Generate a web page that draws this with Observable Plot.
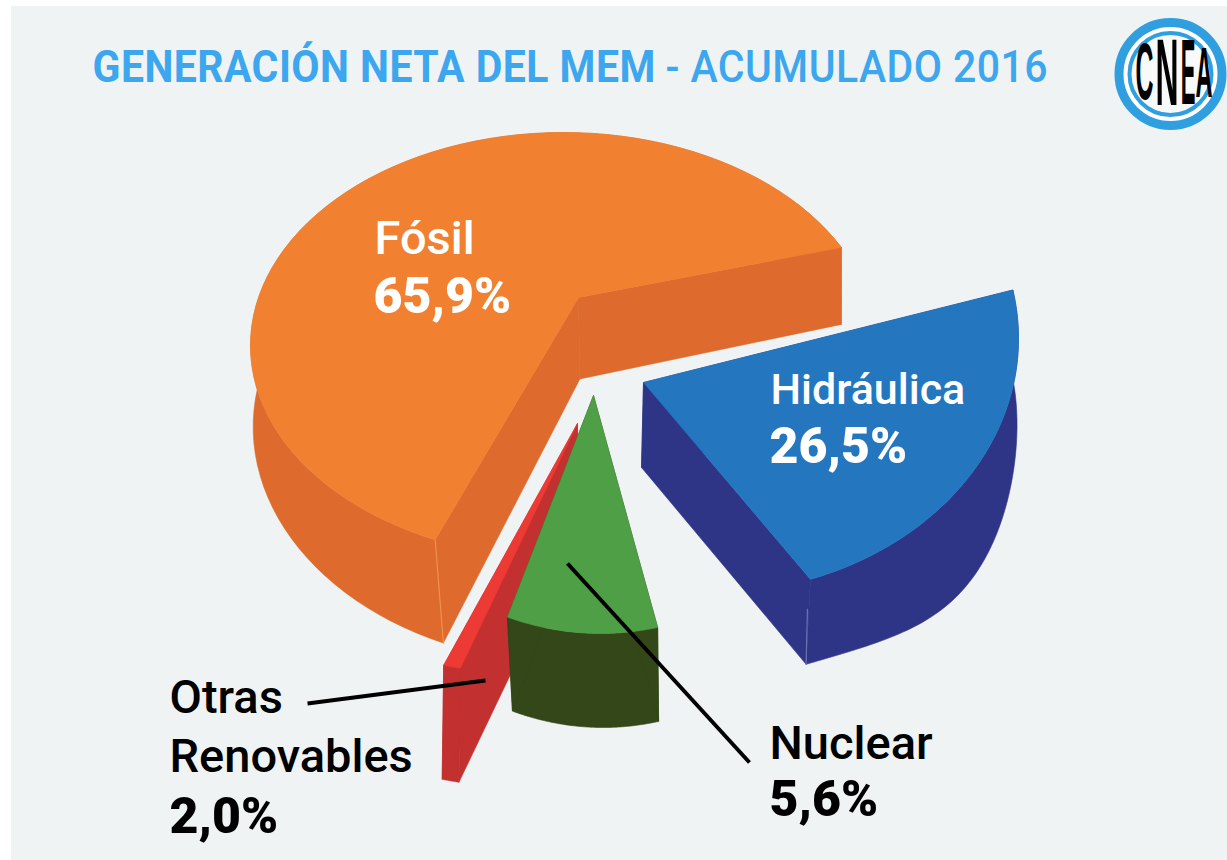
<!DOCTYPE html>
<html lang="es">
<head>
<meta charset="utf-8">
<script src="https://cdn.jsdelivr.net/npm/d3@7"></script>
<script src="https://cdn.jsdelivr.net/npm/@observablehq/plot@0.6"></script>
<style>
html,body{margin:0;padding:0;background:#fff;overflow:hidden}
svg{display:block}
</style>
</head>
<body>
<div id="chart"></div>
<script>
// ---- data ----
const categories = ["Fósil", "Otras Renovables", "Nuclear", "Hidráulica"];
const shares = [65.9, 2.0, 5.6, 26.5];
const titleMain = "GENERACIÓN NETA DEL MEM";
const titleRest = "- ACUMULADO 2016";
const logoLetters = ["C", "N", "E", "A"];

// ---- look of the 3D drawing (one entry per category) ----
const topColors  = ["#f18130", "#ee3a34", "#4f9f47", "#2477bf"];
const wallColors = ["#de6a2d", "#c2302f", "#344718", "#2e3586"];
const seamColors = ["#f0924a", null, null, "#6c74b0"];
const views = [
  {apex:[578,297], c:[563,345], rx:313, ry:213, start:27.4,  persp:0.9206, y0:248, dy0:77, dyY:0.09, dx0:0, dxY:0.028, dxX:0, bulge:0},
  {apex:[577,423], c:[590,575], rx:300, ry:103, start:240.7, persp:0.5,    y0:665, dy0:114, dyY:0, dx0:-1.5, dxY:0, dxX:0, bulge:0},
  {apex:[593,395], c:[600,271], rx:313, ry:362, start:252.7, persp:1.38,   y0:617, dy0:94, dyY:0, dx0:3, dxY:0, dxX:-0.027, xRef:582, bulge:0},
  {apex:[643,382], c:[708,338], rx:310, ry:255, start:-70.8, persp:0.857,  y0:382, dy0:85, dyY:0, dx0:-2, dxY:-0.012, dxX:0, bulge:25}
];

const rad = Math.PI / 180;
const wedges = categories.map((name, i) => {
  const v = views[i];
  const sweep = shares[i] * 3.6 * v.persp;
  const rim = d3.range(81).map(k => {
    const t = (v.start + sweep * k / 80) * rad;
    return {x: v.c[0] + v.rx * Math.cos(t), y: v.c[1] - v.ry * Math.sin(t)};
  });
  const down = p => ({
    x: p.x + v.dx0 + v.dxY * (p.y - v.y0) + v.dxX * (p.x - (v.xRef ?? 0)),
    y: p.y + v.dy0 + v.dyY * (p.y - v.y0)
  });
  const apex = {x: v.apex[0], y: v.apex[1]};
  const first = rim[0], last = rim[rim.length - 1];
  const lower = rim.map((p, k) => {
    const q = down(p);
    return {x: q.x, y: q.y + v.bulge * Math.sin(Math.PI * k / 80) ** 2};
  });
  return {
    top: [apex, ...rim],
    walls: [
      [...rim, ...lower.slice().reverse()],
      [apex, first, down(first), down(apex)],
      [apex, last, down(last), down(apex)]
    ],
    seam: i === 3 ? [{x: first.x - 3, y: first.y + 30}, down(first)] : [last, down(last)]
  };
});

const poly = (pts, color) => Plot.line([...pts, pts[0]], {x: "x", y: "y", fill: color, stroke: color, strokeWidth: 0.6, curve: "linear"});

const wedgeMarks = wedges.flatMap((w, i) => [
  ...w.walls.map(q => poly(q, wallColors[i])),
  poly(w.top, topColors[i]),
  ...(seamColors[i] ? [Plot.line(w.seam, {x: "x", y: "y", stroke: seamColors[i], strokeWidth: 1.2})] : [])
]);

// ---- labels ----
const pct = v => v.toFixed(1).replace(".", ",") + "%";
const sans = "Roboto, 'Liberation Sans', sans-serif";
const nameLabels = [
  {text: "Fósil", x: 374, y: 253, fill: "#fff", size: 47},
  {text: "Hidráulica", x: 770, y: 403, fill: "#fff", size: 43},
  {text: "Otras", x: 169, y: 712, fill: "#000", size: 47},
  {text: "Renovables", x: 169, y: 771, fill: "#000", size: 47},
  {text: "Nuclear", x: 769, y: 758, fill: "#000", size: 47}
];
const valueLabels = [
  {text: pct(shares[0]), x: 373, y: 312, fill: "#fff"},
  {text: pct(shares[3]), x: 769, y: 462, fill: "#fff"},
  {text: pct(shares[1]), x: 169, y: 832, fill: "#000"},
  {text: pct(shares[2]), x: 769, y: 815, fill: "#000"}
];
const leaders = [
  [{x: 307, y: 703}, {x: 485, y: 680}],
  [{x: 567, y: 563}, {x: 749, y: 762}]
];
const titleRows = [
  {text: titleMain, x: 92, y: 81, weight: 700},
  {text: titleRest, x: 665, y: 81, weight: 500}
];
const logoRows = logoLetters.map((t, i) => ({
  t,
  x: [1144, 1166.5, 1187.5, 1203.5][i],
  y: [73, 74, 74, 74][i],
  s: [79, 94, 92, 70][i],
  sx: [0.316, 0.34, 0.24, 0.337][i]
}));

const textMark = (rows, opts) => Plot.text(rows, {x: "x", y: "y", text: "text", fill: "fill", textAnchor: "start", lineAnchor: "bottom", fontFamily: sans, ...opts});
const center = [{x: 1170, y: 73.5}];

const plot = Plot.plot({
  width: 1227, height: 860, margin: 0,
  x: {domain: [0, 1227], range: [0, 1227], axis: null},
  y: {domain: [0, 860], range: [0, 860], axis: null},
  style: {background: "#fff"},
  marks: [
    Plot.rect([{x1: 11, x2: 1227, y1: 6, y2: 860}], {x1: "x1", x2: "x2", y1: "y1", y2: "y2", fill: "#f0f3f3"}),
    ...wedgeMarks,
    ...leaders.map(l => Plot.line(l, {x: "x", y: "y", stroke: "#000", strokeWidth: 4, strokeLinecap: "butt"})),
    Plot.text(titleRows.slice(0, 1), {x: "x", y: "y", text: "text", fill: "#3ca7ee", textAnchor: "start", lineAnchor: "bottom", fontFamily: sans, fontSize: 45, fontWeight: 700, className: "ttl"}),
    Plot.text(titleRows.slice(1), {x: "x", y: "y", text: "text", fill: "#3ca7ee", textAnchor: "start", lineAnchor: "bottom", fontFamily: sans, fontSize: 45, fontWeight: 500, className: "ttl"}),
    textMark(nameLabels, {fontSize: "size", fontWeight: 500}),
    textMark(valueLabels, {fontSize: 50, fontWeight: 900}),
    // CNEA logo
    Plot.dot(center, {x: "x", y: "y", r: 51.5, fill: "#fff", stroke: "#2f9fe0", strokeWidth: 9}),
    Plot.dot(center, {x: "x", y: "y", r: 41, fill: "#f8fafa", stroke: "#2f9fe0", strokeWidth: 4}),
    Plot.text(logoRows, {x: "x", y: "y", text: "t", fontSize: "s", fill: "#000", fontFamily: "'Liberation Sans', sans-serif", fontWeight: 700, className: "logo"})
  ]
});

d3.select(plot).selectAll(".logo text").each(function (_, i) {
  const e = d3.select(this);
  e.attr("transform", `${e.attr("transform") || ""} scale(${logoRows[i].sx},1)`);
});
d3.select(plot).selectAll(".ttl text").each(function () {
  const e = d3.select(this);
  e.attr("transform", `${e.attr("transform") || ""} scale(0.911,1)`).style("letter-spacing", "0.5px");
});
document.getElementById("chart").appendChild(plot);
</script>
</body>
</html>
